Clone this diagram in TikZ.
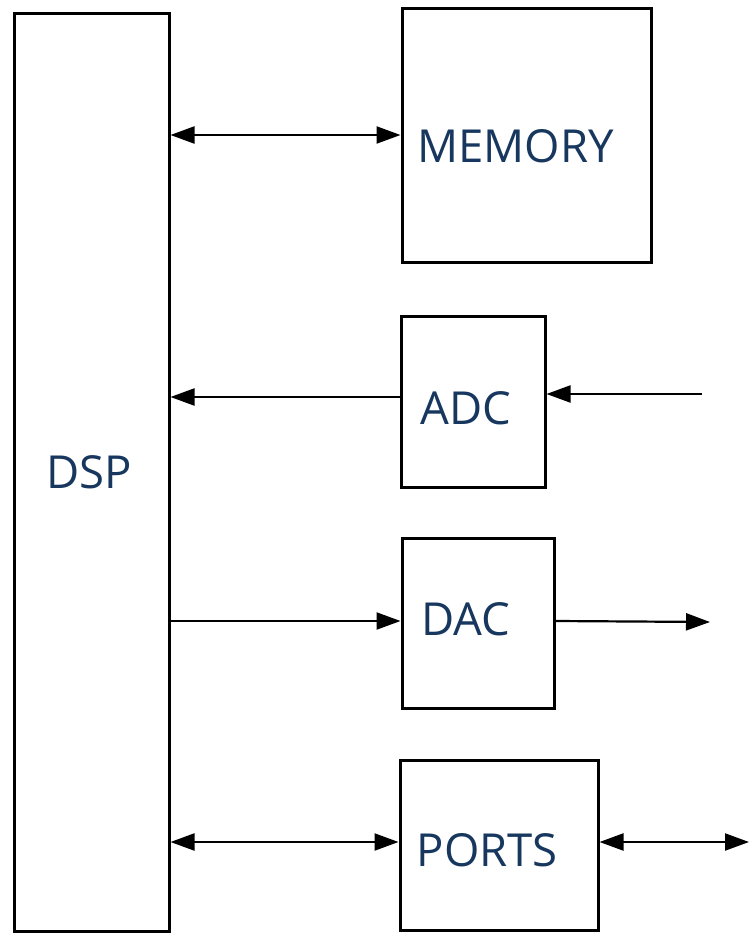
\documentclass[tikz,border=0pt]{standalone}
\usepackage{fontspec}
\setmainfont{Open Sans}
\usetikzlibrary{arrows.meta}
\definecolor{txt}{RGB}{23,55,94}
\begin{document}
\begin{tikzpicture}[x=1pt,y=-1pt,
  box/.style={draw=black,line width=3pt,rectangle,inner sep=0pt},
  lbl/.style={anchor=base west,inner sep=0pt,text=txt,font=\fontsize{45.5}{48}\selectfont},
  conn/.style={line width=2.2pt},
  tip/.style={{Triangle[length=24pt,width=17pt]}}]
\useasboundingbox (0,0) rectangle (749,934);
\node[box,minimum width=155pt,minimum height=917pt] (DSP) at (91.5,472.5) {};
\node[box,minimum width=249pt,minimum height=253pt] (MEM) at (526.5,135.5) {};
\node[box,minimum width=144pt,minimum height=171pt] (ADC) at (473,401.5) {};
\node[box,minimum width=152pt,minimum height=170pt] (DAC) at (478,623) {};
\node[box,minimum width=198pt,minimum height=170pt] (PORTS) at (499,845) {};
\node[lbl] (tDSP) at (46.5,488) {DSP};
\node[lbl] (tMEM) at (417,162.5) {MEMORY};
\node[lbl] (tADC) at (420.5,424) {ADC};
\node[lbl] (tDAC) at (421,635.5) {DAC};
\node[lbl] (tPORTS) at (416.5,866) {PORTS};
\coordinate (ain) at (702,394);
\coordinate (dout) at (710,622);
\coordinate (pout) at (749,842);
\draw[conn,{Triangle[length=24pt,width=17pt]}-{Triangle[length=24pt,width=17pt]}] (MEM.west |- 0,135) -- (DSP.east |- 0,135);
\draw[conn,-{Triangle[length=24pt,width=17pt]}] (ADC.west |- 0,397) -- (DSP.east |- 0,397);
\draw[conn,-{Triangle[length=24pt,width=17pt]}] (ain) -- (ADC.east |- ain);
\draw[conn,-{Triangle[length=24pt,width=17pt]}] (DSP.east |- 0,621) -- (DAC.west |- 0,621);
\draw[conn,-{Triangle[length=24pt,width=17pt]}] (DAC.east |- 0,621) -- (dout);
\draw[conn,{Triangle[length=24pt,width=17pt]}-{Triangle[length=24pt,width=17pt]}] (DSP.east |- 0,842) -- (PORTS.west |- 0,842);
\draw[conn,{Triangle[length=24pt,width=17pt]}-{Triangle[length=24pt,width=17pt]}] (PORTS.east |- pout) -- (pout);
\end{tikzpicture}
\end{document}
